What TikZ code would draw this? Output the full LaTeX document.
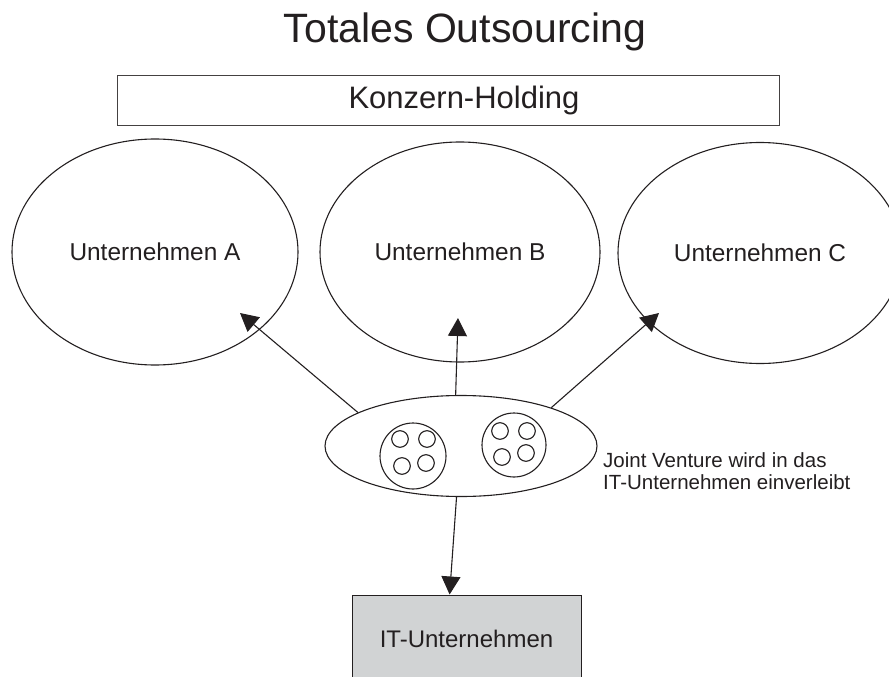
\documentclass[tikz,border=0pt]{standalone}
\usepackage{fontspec}
\setmainfont{Liberation Sans}
\usetikzlibrary{shapes.geometric, arrows.meta}
\definecolor{strich}{RGB}{35,31,32}
\definecolor{itgrau}{RGB}{209,211,212}

\begin{document}
\begin{tikzpicture}[x=1pt, y=-1pt,
		firma/.style={ellipse, draw=strich, line width=1.1pt, inner sep=0pt, text=strich, font=\fontsize{24.4}{28}\selectfont},
		pfeil/.style={draw=strich, line width=1.1pt, -{Triangle[length=18pt, width=19pt]}},
		kreis/.style={circle, draw=strich, line width=1.1pt, inner sep=0pt}]
	\useasboundingbox (0, 0) rectangle (889, 677);

	\node[anchor=base, text=strich, font=\fontsize{41}{48}\selectfont] (titel) at (465, 43) {Totales Outsourcing};
	\node[draw=strich!85, line width=0.9pt, minimum width=662pt, minimum height=50pt,
		label={[xshift=16pt, text=strich, font=\fontsize{31}{36}\selectfont]center:Konzern-Holding}] (holding) at (448, 100) {};

	\node[firma, minimum width=286pt, minimum height=226pt] (ua) at (155, 252) {Unternehmen A};
	\node[firma, minimum width=280pt, minimum height=220pt] (ub) at (460, 252) {Unternehmen B};
	\node[firma, minimum width=284pt, minimum height=221pt] (uc) at (760, 253) {Unternehmen C};

	\node[ellipse, draw=strich, line width=1.1pt, inner sep=0pt, minimum width=272pt, minimum height=101pt] (jv) at (461, 446) {};
	\node[kreis, minimum size=66pt] (kreisL) at (413, 456) {};
	\node[kreis, minimum size=64pt] (kreisR) at (514, 445) {};
	\foreach \dx/\dy in {-13/-17, 14/-17, -11/10, 13/7}
		\draw[strich, line width=1.1pt] (kreisL.center) ++(\dx, \dy) circle (8.3pt);
	\foreach \dx/\dy in {-14/-14, 13/-14, -12/12, 12/8}
		\draw[strich, line width=1.1pt] (kreisR.center) ++(\dx, \dy) circle (8.3pt);

	\node[anchor=north west, inner sep=0pt, align=left, text=strich, font=\fontsize{20.5}{22}\selectfont] (notiz) at (603, 452) {Joint Venture wird in das\\IT-Unternehmen einverleibt};

	\node[draw=strich, line width=1pt, fill=itgrau, minimum width=229pt, minimum height=87pt, text=strich, font=\fontsize{24}{28}\selectfont] (it) at (466.5, 638.5) {IT-Unternehmen};

	\coordinate (spitzeA) at (240, 313);
	\coordinate (spitzeB) at (458, 318);
	\coordinate (spitzeC) at (659, 313);

	\draw[pfeil] (jv.162) -- (spitzeA);
	\draw[pfeil] (jv.96) -- (spitzeB);
	\draw[pfeil] (jv.23) -- (spitzeC);
	\draw[pfeil] (jv.265) -- (it.111);
\end{tikzpicture}
\end{document}
